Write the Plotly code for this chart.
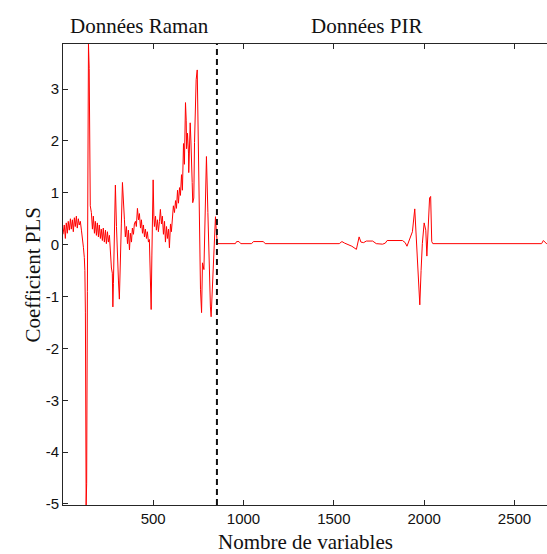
import plotly.graph_objects as go

# ---------------- data ----------------
raman_x = [1, 8, 14, 19, 25, 30, 36, 42, 47, 53, 58, 64, 69, 75, 80, 86, 91, 97, 103, 108,
           114, 119, 122, 125, 129, 132, 136, 140, 142, 146, 149, 152, 158, 164, 169, 175, 180, 186, 191, 197,
           202, 208, 213, 219, 224, 230, 236, 241, 247, 252, 258, 263, 269, 274, 277, 280, 285, 291, 297, 302,
           308, 313, 319, 324, 330, 335, 341, 346, 352, 358, 363, 369, 374, 380, 385, 391, 396, 402, 407, 413,
           419, 424, 430, 435, 441, 446, 452, 457, 463, 468, 474, 479, 485, 489, 493, 496, 500, 504, 507, 513,
           518, 524, 529, 535, 540, 546, 551, 557, 563, 568, 574, 579, 585, 590, 596, 601, 607, 612, 618, 624,
           629, 635, 640, 646, 651, 657, 662, 668, 673, 679, 683, 685, 690, 696, 697, 701, 705, 709, 712, 716,
           719, 725, 729, 734, 738, 744, 749, 753, 757, 762, 768, 773, 781, 785, 790, 795, 803, 807, 812, 817,
           821, 826, 830, 834, 840, 845, 849, 854]
raman_y = [0.20, 0.38, 0.12, 0.42, 0.22, 0.45, 0.28, 0.50, 0.30, 0.48, 0.25, 0.52, 0.35, 0.55, 0.32, 0.50, 0.38, 0.45, 0.28, 0.15,
           -0.05, -0.25, -0.50, -1.30, -5.02, -4.60, -0.90, 2.60, 3.87, 3.40, 1.90, 0.75, 0.62, 0.30, 0.55, 0.22, 0.45, 0.18, 0.42, 0.15,
           0.38, 0.12, 0.30, 0.08, 0.32, 0.05, 0.28, 0.02, 0.25, 0.05, 0.18, -0.15, -0.45, -0.55, -1.20, -0.75, 0.05, 1.15, 0.35, -0.25,
           -0.70, -1.05, -0.45, 0.40, 1.20, 0.75, 0.48, 0.15, 0.35, 0.02, 0.28, -0.10, 0.22, 0.05, 0.32, 0.20, 0.40, 0.45, 0.35, 0.70,
           0.48, 0.60, 0.32, 0.48, 0.22, 0.38, 0.15, 0.30, 0.12, 0.25, 0.05, 0.10, -0.55, -1.25, -0.20, 0.85, 1.25, 0.55, 0.35, 0.55,
           0.28, 0.48, 0.25, 0.45, 0.68, 0.40, 0.55, 0.20, 0.45, 0.05, 0.35, 0.12, 0.30, -0.06, 0.40, 0.25, 0.55, 0.75, 0.62, 0.85,
           0.70, 1.05, 0.80, 1.10, 0.95, 1.35, 1.05, 1.95, 1.55, 2.74, 2.40, 1.85, 2.15, 1.75, 1.39, 1.90, 2.35, 2.00, 1.77, 1.20,
           0.81, 0.90, 1.97, 2.60, 3.18, 3.37, 1.97, 1.00, -0.29, -0.87, -1.31, -0.35, -0.48, 0.20, 1.00, 1.70, 0.62, 0.00, -0.54, -1.20,
           -1.39, -1.00, -0.73, -0.20, 0.29, 0.54, 0.30, 0.02]

pir_x = [855, 955, 962, 975, 985, 1045, 1055, 1110, 1120, 1530, 1545, 1560, 1600, 1625, 1640, 1650, 1665, 1680, 1715, 1735,
         1770, 1785, 1795, 1880, 1895, 1905, 1921, 1935, 1948, 1956, 1962, 1968, 1976, 1983, 1990, 2000, 2009, 2015, 2022, 2030,
         2036, 2042, 2048, 2650, 2660, 2672, 2680]
pir_y = [0.02, 0.02, 0.06, 0.06, 0.02, 0.02, 0.06, 0.06, 0.02, 0.02, 0.06, 0.03, -0.03, -0.09, 0.15, 0.05, 0.04, 0.07, 0.07, 0.02,
         0.01, 0.03, 0.08, 0.08, 0.04, -0.03, 0.10, 0.25, 0.69, 0.10, -0.20, -0.61, -1.16, -0.50, 0.02, 0.42, 0.28, -0.22, 0.40, 0.90,
         0.93, 0.06, 0.02, 0.02, 0.08, 0.03, 0.01]

raman_count = 853
x_ticks = [500, 1000, 1500, 2000, 2500]
x_tick_labels = ["500", "1000", "1500", "2000", "2500"]
y_ticks = [-5, -4, -3, -2, -1, 0, 1, 2, 3]
y_tick_labels = ["-5", "-4", "-3", "-2", "-1", "0", "1", "2", "3"]
x_limits = [1, 2680]
y_limits = [-5.02, 3.87]
label_raman = "Données Raman"
label_pir = "Données PIR"
label_raman_pos = 424
label_pir_pos = 1682

# ---------------- figure ----------------
fig = go.Figure()
fig.add_trace(go.Scatter(x=raman_x + pir_x, y=raman_y + pir_y, mode="lines",
                         line=dict(color="#ff0000", width=1), hoverinfo="skip", showlegend=False))

fig.add_shape(type="line", xref="x", yref="paper", x0=raman_count, x1=raman_count, y0=0, y1=1,
              line=dict(color="#111111", width=2, dash="6px,4px"))

axis_common = dict(showgrid=False, zeroline=False, showline=True, linecolor="#262626", linewidth=1,
                   ticks="inside", ticklen=5, tickcolor="#262626",
                   tickfont=dict(family="Liberation Sans, Arial", size=15, color="#111111"))

fig.update_xaxes(range=x_limits, tickvals=x_ticks, ticktext=x_tick_labels, mirror="ticks", **axis_common)
fig.update_yaxes(range=y_limits, tickvals=y_ticks, ticktext=y_tick_labels, mirror=False, **axis_common)

serif = dict(family="Liberation Serif, Times New Roman", size=21, color="#111111")
fig.add_annotation(text=label_raman, xref="x", yref="paper", x=label_raman_pos, y=1,
                   xanchor="center", yanchor="middle", yshift=18, showarrow=False, font=serif)
fig.add_annotation(text=label_pir, xref="x", yref="paper", x=label_pir_pos, y=1,
                   xanchor="center", yanchor="middle", yshift=18, showarrow=False, font=serif)
fig.add_annotation(text="Nombre de variables", xref="paper", yref="paper", x=0.5, y=0,
                   xanchor="center", yanchor="middle", yshift=-37, showarrow=False, font=serif)
fig.add_annotation(text="Coefficient PLS", xref="paper", yref="paper", x=0, y=0.5, textangle=-90,
                   xanchor="center", yanchor="middle", xshift=-31, showarrow=False, font=serif)

fig.update_layout(width=547, height=554, margin=dict(l=63, r=0, t=44, b=49),
                  paper_bgcolor="white", plot_bgcolor="white")

fig.write_html("out.html", config={"displayModeBar": False},
               post_script="document.body.style.margin='0';document.body.style.overflow='hidden';")
